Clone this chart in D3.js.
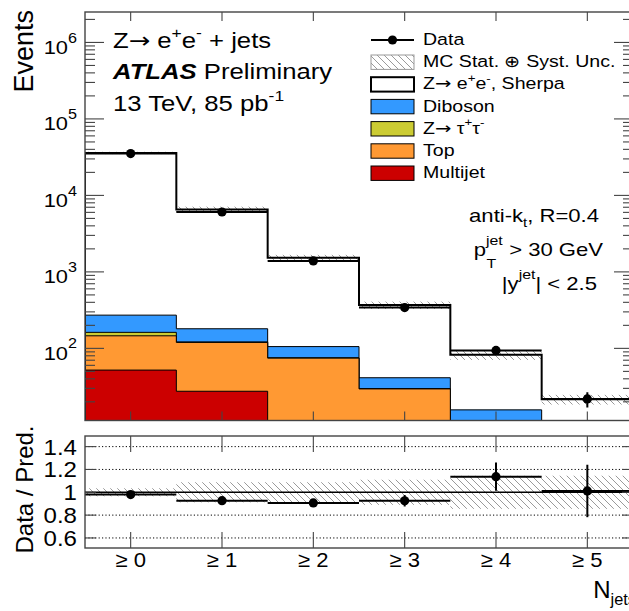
<!DOCTYPE html>
<html>
<head>
<meta charset="utf-8">
<script src="https://cdn.jsdelivr.net/npm/d3@7"></script>
<style>
  body { margin: 0; background: #fff; }
  svg { display: block; }
  text { font-family: "Liberation Sans", Arial, Helvetica, sans-serif; fill: #000; }
  .arrow { font-family: "DejaVu Sans", sans-serif; }
</style>
</head>
<body>
<svg id="chart" width="629" height="611"></svg>
<script>
// Jet multiplicity bins (inclusive)
const categories = ["≥ 0", "≥ 1", "≥ 2", "≥ 3", "≥ 4", "≥ 5"];

// Observed events and their uncertainties
const dataCounts = [35200, 6070, 1393, 341, 94, 21.8];
const dataErrors = [188, 78, 37, 18.5, 10.2, 4.95];

// Stacked predictions (bottom to top)
const multijet = [52, 27.5, 0, 0, 0, 0];
const topQuark = [94, 92, 74.5, 29.5, 8, 2];
const zTauTau = [16, 2, 1, 0.3, 0.1, 0.05];
const diboson = [110, 59, 30, 11.5, 7.6, 2];
const zeeSherpa = [35650, 6370, 1430, 327, 67, 17.5];

// Relative MC stat. + syst. uncertainty per bin
const mcRelUnc = [0.035, 0.088, 0.088, 0.11, 0.145, 0.145];

// Axis ticks
const logMajorTicks = [1e2, 1e3, 1e4, 1e5, 1e6];
const ratioTicks = [0.6, 0.8, 1, 1.2, 1.4];

const svg = d3.select("#chart");
const defs = svg.append("defs");

// geometry
const W = { left: 85, right: 633 };
const P1 = { top: 12, bottom: 420.5 };
const P2 = { top: 436, bottom: 548 };

const x = d3.scaleBand().domain(categories).range([W.left, W.right]).padding(0);
const bw = x.bandwidth();
const xc = c => x(c) + bw / 2;

const y = d3.scaleLog().domain([11.4, 2.5e6]).range([P1.bottom, P1.top]);
const yr = d3.scaleLinear().domain([0.512, 1.493]).range([P2.bottom, P2.top]);

// hatch pattern for the uncertainty band
const pat = defs.append("pattern").attr("id", "hatch")
  .attr("patternUnits", "userSpaceOnUse").attr("width", 7).attr("height", 7);
pat.append("path").attr("d", "M-1,-1 L8,8 M-1,6 L1,8 M6,-1 L8,1")
  .attr("stroke", "#9a9a9a").attr("stroke-width", 1).attr("fill", "none");

defs.append("clipPath").attr("id", "clip1").append("rect")
  .attr("x", W.left).attr("y", P1.top).attr("width", W.right - W.left).attr("height", P1.bottom - P1.top);
defs.append("clipPath").attr("id", "clip2").append("rect")
  .attr("x", W.left).attr("y", P2.top).attr("width", W.right - W.left).attr("height", P2.bottom - P2.top);

// text helper: horizontally widened Helvetica-like text with super/subscripts
function rich(sel, xp, yp, parts, size, opt = {}) {
  const sx = opt.sx || 1.2;
  const anchor = opt.anchor || "start";
  const supScale = opt.supScale || 0.68;
  const supRaise = opt.supRaise || 0.45;
  const subDrop = opt.subDrop || 0.28;
  const t = sel.append("text")
    .attr("transform", `translate(${xp},${yp}) scale(${sx},1)`)
    .attr("font-size", size).attr("text-anchor", anchor);
  let shift = 0;
  parts.forEach(p => {
    const o = typeof p === "string" ? { t: p } : p;
    const target = o.mode === "sup" ? -supRaise * size : o.mode === "sub" ? subDrop * size : 0;
    const ts = t.append("tspan").text(o.t).attr("dy", target - shift);
    if (o.mode) ts.attr("font-size", size * supScale);
    if (o.dx !== undefined) ts.attr("dx", o.dx);
    if (o.weight) ts.attr("font-weight", o.weight);
    if (o.style) ts.attr("font-style", o.style);
    if (o.cls) ts.attr("class", o.cls);
    shift = target;
  });
  return t;
}

// ---------- upper panel: stacked histograms ----------
const stackOrder = [multijet, topQuark, zTauTau, diboson, zeeSherpa];
const cumulative = [];
let running = categories.map(() => 0);
stackOrder.forEach(arr => {
  running = running.map((v, i) => v + arr[i]);
  cumulative.push(running.slice());
});
const total = cumulative[cumulative.length - 1];

const fills = ["#cc0000", "#ff9933", "#cccc33", "#3399ff", "#ffffff"];
const g1 = svg.append("g").attr("clip-path", "url(#clip1)");

function yClamp(v) { return v > 0 ? Math.min(y(v), P1.bottom + 5) : P1.bottom + 5; }
function stepPath(vals) {
  let d = `M${W.left},${P1.bottom + 5}`;
  categories.forEach((c, i) => {
    const yy = yClamp(vals[i]);
    d += `L${x(c)},${yy}L${x(c) + bw},${yy}`;
  });
  d += `L${W.right},${P1.bottom + 5}Z`;
  return d;
}

// draw from the outermost layer inward
for (let k = cumulative.length - 1; k >= 0; k--) {
  g1.append("path").attr("d", stepPath(cumulative[k]))
    .attr("fill", fills[k]).attr("stroke", "#000")
    .attr("stroke-width", k === cumulative.length - 1 ? 0 : 1);
}

// uncertainty band around total prediction
g1.selectAll("rect.band").data(categories).join("rect").attr("class", "band")
  .attr("x", c => x(c)).attr("width", bw)
  .attr("y", (c, i) => y(total[i] * (1 + mcRelUnc[i])))
  .attr("height", (c, i) => y(total[i] * (1 - mcRelUnc[i])) - y(total[i] * (1 + mcRelUnc[i])))
  .attr("fill", "url(#hatch)");

// total prediction outline
g1.append("path").attr("d", stepPath(total))
  .attr("fill", "none").attr("stroke", "#000").attr("stroke-width", 2);

// data points
const dg = g1.append("g");
categories.forEach((c, i) => {
  const yy = y(dataCounts[i]);
  dg.append("line").attr("x1", x(c)).attr("x2", x(c) + bw).attr("y1", yy).attr("y2", yy)
    .attr("stroke", "#000").attr("stroke-width", 2);
  dg.append("line").attr("x1", xc(c)).attr("x2", xc(c))
    .attr("y1", y(dataCounts[i] + dataErrors[i])).attr("y2", y(dataCounts[i] - dataErrors[i]))
    .attr("stroke", "#000").attr("stroke-width", 2);
  dg.append("circle").attr("cx", xc(c)).attr("cy", yy).attr("r", 4.6).attr("fill", "#000");
});

// frame + ticks for upper panel
const axc = "#444";
const ax1 = svg.append("g").attr("stroke", axc).attr("stroke-width", 1.1);
categories.forEach(c => {
  ax1.append("line").attr("x1", xc(c)).attr("x2", xc(c)).attr("y1", P1.bottom).attr("y2", P1.bottom - 9);
  ax1.append("line").attr("x1", xc(c)).attr("x2", xc(c)).attr("y1", P1.top).attr("y2", P1.top + 9);
});
const [ymin, ymax] = y.domain();
for (let e = 1; e <= 6; e++) {
  for (let m = 1; m <= 9; m++) {
    const v = m * Math.pow(10, e);
    if (v < ymin || v > ymax) continue;
    const len = m === 1 ? 19 : 10;
    ax1.append("line").attr("x1", W.left).attr("x2", W.left + len).attr("y1", y(v)).attr("y2", y(v));
    ax1.append("line").attr("x1", W.right).attr("x2", W.right - len).attr("y1", y(v)).attr("y2", y(v));
  }
}
svg.append("rect").attr("x", W.left).attr("y", P1.top).attr("width", W.right - W.left)
  .attr("height", P1.bottom - P1.top).attr("fill", "none").attr("stroke", axc).attr("stroke-width", 1.4);

// y tick labels (10^n)
logMajorTicks.forEach(v => {
  const e = Math.round(Math.log10(v));
  rich(svg, 77, y(v) + 11.5, ["10", { t: String(e), mode: "sup" }], 19,
    { anchor: "end", sx: 1.15, supScale: 0.74, supRaise: 0.6 });
});

svg.append("text").attr("transform", "translate(33,10) rotate(-90)")
  .attr("text-anchor", "end").attr("font-size", 27).text("Events");

// labels in upper panel
rich(svg, 113, 47.5, ["Z", { t: "→", cls: "arrow" }, " e", { t: "+", mode: "sup" }, "e", { t: "-", mode: "sup" }, " + jets"], 21.4);
rich(svg, 113, 79, [{ t: "ATLAS", weight: "bold", style: "italic" }, " Preliminary"], 21.4);
rich(svg, 113, 111, ["13 TeV, 85 pb", { t: "-1", mode: "sup" }], 21.4);

rich(svg, 599, 222, ["anti-k", { t: "t", mode: "sub" }, ", R=0.4"], 18.4, { anchor: "end" });
rich(svg, 603, 256, ["p", { t: "jet", mode: "sup" }, { t: "T", mode: "sub", dx: -13.6 }, { t: " > 30 GeV", dx: 5.7 }], 18.4,
  { anchor: "end", supRaise: 0.58, subDrop: 0.66, supScale: 0.72 });
rich(svg, 597, 290, ["|y", { t: "jet", mode: "sup" }, "| < 2.5"], 18.4,
  { anchor: "end", supRaise: 0.58, supScale: 0.72 });

// legend
const legend = svg.append("g");
const legRows = [40, 62.2, 84.4, 106.6, 128.8, 151, 173.2];
const legX0 = 371, legX1 = 414, legText = 423;
legend.append("line").attr("x1", legX0).attr("x2", legX1).attr("y1", legRows[0]).attr("y2", legRows[0])
  .attr("stroke", "#000").attr("stroke-width", 2);
legend.append("circle").attr("cx", (legX0 + legX1) / 2).attr("cy", legRows[0]).attr("r", 4.6);
const boxes = [
  { fill: "url(#hatch)", stroke: "#999", sw: 1 },
  { fill: "#ffffff", stroke: "#000", sw: 2 },
  { fill: fills[3], stroke: "#000", sw: 1 },
  { fill: fills[2], stroke: "#000", sw: 1 },
  { fill: fills[1], stroke: "#000", sw: 1 },
  { fill: fills[0], stroke: "#000", sw: 1 }
];
boxes.forEach((b, i) => {
  legend.append("rect").attr("x", legX0).attr("y", legRows[i + 1] - 7.2)
    .attr("width", legX1 - legX0).attr("height", 14.4)
    .attr("fill", b.fill).attr("stroke", b.stroke).attr("stroke-width", b.sw);
});
const legLabels = [
  ["Data"],
  ["MC Stat. ⊕ Syst. Unc."],
  ["Z", { t: "→", cls: "arrow" }, " e", { t: "+", mode: "sup" }, "e", { t: "-", mode: "sup" }, ", Sherpa"],
  ["Diboson"],
  ["Z", { t: "→", cls: "arrow" }, " τ", { t: "+", mode: "sup" }, "τ", { t: "-", mode: "sup" }],
  ["Top"],
  ["Multijet"]
];
legLabels.forEach((parts, i) => rich(legend, legText, legRows[i] + 5, parts, 16.3));

// ---------- lower panel: ratio ----------
const g2 = svg.append("g").attr("clip-path", "url(#clip2)");
g2.selectAll("rect.rband").data(categories).join("rect").attr("class", "rband")
  .attr("x", c => x(c)).attr("width", bw)
  .attr("y", (c, i) => yr(1 + mcRelUnc[i]))
  .attr("height", (c, i) => yr(1 - mcRelUnc[i]) - yr(1 + mcRelUnc[i]))
  .attr("fill", "url(#hatch)");

ratioTicks.filter(v => v !== 1).forEach(v => {
  g2.append("line").attr("x1", W.left).attr("x2", W.right).attr("y1", yr(v)).attr("y2", yr(v))
    .attr("stroke", "#000").attr("stroke-width", 1).attr("stroke-dasharray", "1.2,2.2");
});
g2.append("line").attr("x1", W.left).attr("x2", W.right).attr("y1", yr(1)).attr("y2", yr(1))
  .attr("stroke", "#000").attr("stroke-width", 1.6);

categories.forEach((c, i) => {
  const r = dataCounts[i] / total[i];
  const re = dataErrors[i] / total[i];
  g2.append("line").attr("x1", x(c)).attr("x2", x(c) + bw).attr("y1", yr(r)).attr("y2", yr(r))
    .attr("stroke", "#000").attr("stroke-width", 2);
  g2.append("line").attr("x1", xc(c)).attr("x2", xc(c)).attr("y1", yr(r + re)).attr("y2", yr(r - re))
    .attr("stroke", "#000").attr("stroke-width", 2);
  g2.append("circle").attr("cx", xc(c)).attr("cy", yr(r)).attr("r", 4.6).attr("fill", "#000");
});

const ax2 = svg.append("g").attr("stroke", axc).attr("stroke-width", 1.1);
categories.forEach(c => {
  ax2.append("line").attr("x1", xc(c)).attr("x2", xc(c)).attr("y1", P2.bottom).attr("y2", P2.bottom - 16);
  ax2.append("line").attr("x1", xc(c)).attr("x2", xc(c)).attr("y1", P2.top).attr("y2", P2.top + 16);
});
ratioTicks.forEach(v => {
  ax2.append("line").attr("x1", W.left).attr("x2", W.left + 11).attr("y1", yr(v)).attr("y2", yr(v));
  ax2.append("line").attr("x1", W.right).attr("x2", W.right - 11).attr("y1", yr(v)).attr("y2", yr(v));
});
svg.append("rect").attr("x", W.left).attr("y", P2.top).attr("width", W.right - W.left)
  .attr("height", P2.bottom - P2.top).attr("fill", "none").attr("stroke", axc).attr("stroke-width", 1.4);

ratioTicks.forEach(v => {
  rich(svg, 77, yr(v) + 8, [d3.format("~g")(v)], 21.5, { anchor: "end", sx: 1.12 });
});
categories.forEach(c => {
  rich(svg, xc(c), 567, [c], 21, { anchor: "middle", sx: 1.05 });
});
svg.append("text").attr("transform", "translate(33,489.5) rotate(-90)")
  .attr("text-anchor", "middle").attr("font-size", 24).text("Data / Pred.");
rich(svg, 636, 598, ["N", { t: "jets", mode: "sub" }], 24, { anchor: "end", sx: 1.0 });
</script>
</body>
</html>
